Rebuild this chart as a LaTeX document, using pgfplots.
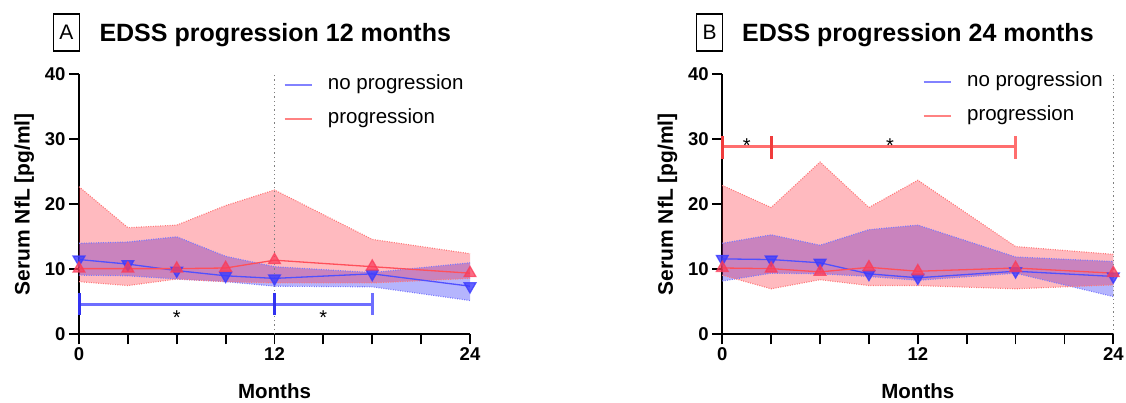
\documentclass[border=0pt]{standalone}
\usepackage{fontspec}
\setmainfont{Liberation Sans}
\usepackage{pgfplots}
\usepackage{pgfplotstable}
\pgfplotsset{compat=1.18}
\usepgfplotslibrary{fillbetween}

\definecolor{bandR}{RGB}{255,0,20}
\definecolor{bandB}{RGB}{60,60,250}
\definecolor{edgeR}{RGB}{255,120,120}
\definecolor{edgeB}{RGB}{120,120,255}
\definecolor{lineB}{RGB}{80,80,255}
\definecolor{lineR}{RGB}{255,80,90}
\definecolor{markB}{RGB}{60,60,255}
\definecolor{markR}{RGB}{250,60,90}
\definecolor{legB}{RGB}{130,130,255}
\definecolor{legR}{RGB}{255,130,130}
\definecolor{sigB}{RGB}{110,110,255}
\definecolor{sigBd}{RGB}{50,50,240}
\definecolor{sigR}{RGB}{255,110,110}
\definecolor{sigRd}{RGB}{240,60,60}

% x: month; nm/nl/nu: no progression median/lower/upper; pm/pl/pu: progression
\pgfplotstableread{
x  nm   nl   nu   pm   pl   pu
0  11.5 9.1  14.0 10.1 8.1  22.7
3  10.8 9.0  14.2 10.1 7.5  16.4
6  9.8  8.5  15.0 10.1 8.5  16.8
9  9.0  8.1  12.0 10.2 8.1  19.8
12 8.6  7.4  10.4 11.4 7.9  22.2
18 9.3  7.3  9.5  10.4 7.9  14.6
24 7.4  5.2  11.0 9.4  8.6  12.4
}\dataA

\pgfplotstableread{
x  nm   nl   nu   pm   pl   pu
0  11.6 8.2  14.0 10.2 9.1  22.9
3  11.5 9.4  15.3 10.1 7.0  19.5
6  11.0 9.3  13.7 9.6  8.4  26.5
9  9.3  8.9  16.1 10.3 7.5  19.5
12 8.7  8.3  16.8 9.7  7.5  23.7
18 9.7  9.4  11.9 10.2 7.0  13.5
24 8.9  5.8  11.2 9.4  7.6  12.3
}\dataB

\pgfplotsset{
 panel/.style={
  scale only axis, width=391pt, height=260pt, anchor=south west,
  xmin=0, xmax=24, ymin=0, ymax=40,
  axis lines*=left,
  axis line style={line width=1.8pt, black},
  every tick/.style={line width=1.8pt, black},
  tick align=outside,
  major tick length=10pt,
  xtick={0,3,...,24},
  xticklabels={0,,,,12,,,,24},
  ytick={0,10,20,30,40},
  tick label style={font=\fontsize{18.5}{18.5}\selectfont\bfseries},
  /pgf/number format/assume math mode=true,
  ylabel={Serum NfL [pg/ml]},
  xlabel={Months},
  every axis y label/.style={at={(axis description cs:-0.14,0.5)}, rotate=90, anchor=center, font=\fontsize{21}{21}\selectfont\bfseries},
  every axis x label/.style={at={(axis description cs:0.5,0)}, yshift=-64pt, anchor=base, font=\fontsize{20.5}{20.5}\selectfont\bfseries},
  clip=false,
  legend style={draw=none, fill=none, font=\fontsize{20.5}{20.5}\selectfont, anchor=west, cells={anchor=west}, inner sep=0pt, row sep=14pt, nodes={inner sep=0pt, text height=15pt, text depth=5pt}, /tikz/every odd column/.append style={column sep=15pt}},
  legend image code/.code={\draw[#1, opacity=1, line width=2pt] (0pt,0pt) -- (27.4pt,0pt);},
  bandedge/.style={line width=1.1pt, dash pattern=on 1pt off 1.4pt, forget plot},
 }
}

\begin{document}
\begin{tikzpicture}

% ---------- Panel A ----------
\begin{axis}[panel, at={(79pt,68.7pt)}, legend style={at={(0.5225,0.975)}, yshift=-21pt}]
\addplot[name path=nuA, edgeB, bandedge] table[x=x,y=nu]{\dataA};
\addplot[name path=nlA, edgeB, bandedge] table[x=x,y=nl]{\dataA};
\addplot[bandB, fill opacity=0.38, draw=none, forget plot] fill between[of=nuA and nlA];
\addplot[name path=puA, edgeR, bandedge] table[x=x,y=pu]{\dataA};
\addplot[name path=plA, edgeR, bandedge] table[x=x,y=pl]{\dataA};
\addplot[bandR, fill opacity=0.27, draw=none, forget plot] fill between[of=puA and plA];
\addplot[gray, line width=1.3pt, dash pattern=on 1.3pt off 3pt, forget plot] coordinates {(12,0) (12,40)};
\addplot[lineB, line width=1.3pt, mark=triangle*, mark size=6.8pt, mark options={rotate=180, fill=markB, draw=markB, opacity=0.8}, forget plot] table[x=x,y=nm]{\dataA};
\addplot[lineR, line width=1.3pt, mark=triangle*, mark size=6.8pt, mark options={fill=markR, draw=markR, opacity=0.75}, forget plot] table[x=x,y=pm]{\dataA};
% significance bars
\addplot[sigB, line width=3.5pt, forget plot] coordinates {(0,4.6) (18,4.6)};
\addplot[sigBd, line width=3pt, forget plot] coordinates {(0,3.0) (0,6.3)};
\addplot[sigBd, line width=3pt, forget plot] coordinates {(12,3.0) (12,6.3)};
\addplot[sigB, line width=3pt, forget plot] coordinates {(18,3.0) (18,6.3)};
\node at (axis cs:6,2.6) {\fontsize{20}{20}\selectfont *};
\node at (axis cs:15,2.6) {\fontsize{20}{20}\selectfont *};
\addlegendimage{legB}
\addlegendentry{no progression}
\addlegendimage{legR}
\addlegendentry{progression}
\end{axis}

% ---------- Panel B ----------
\begin{axis}[panel, at={(722.3pt,68.7pt)}, legend style={at={(0.512,0.983)}, yshift=-20pt}]
\addplot[name path=nuB, edgeB, bandedge] table[x=x,y=nu]{\dataB};
\addplot[name path=nlB, edgeB, bandedge] table[x=x,y=nl]{\dataB};
\addplot[bandB, fill opacity=0.38, draw=none, forget plot] fill between[of=nuB and nlB];
\addplot[name path=puB, edgeR, bandedge] table[x=x,y=pu]{\dataB};
\addplot[name path=plB, edgeR, bandedge] table[x=x,y=pl]{\dataB};
\addplot[bandR, fill opacity=0.27, draw=none, forget plot] fill between[of=puB and plB];
\addplot[gray, line width=1.3pt, dash pattern=on 1.3pt off 3pt, forget plot] coordinates {(24,0) (24,40)};
\addplot[lineB, line width=1.3pt, mark=triangle*, mark size=6.8pt, mark options={rotate=180, fill=markB, draw=markB, opacity=0.8}, forget plot] table[x=x,y=nm]{\dataB};
\addplot[lineR, line width=1.3pt, mark=triangle*, mark size=6.8pt, mark options={fill=markR, draw=markR, opacity=0.75}, forget plot] table[x=x,y=pm]{\dataB};
% significance bars
\addplot[sigR, line width=3.5pt, forget plot] coordinates {(0,28.9) (18,28.9)};
\addplot[sigRd, line width=3pt, forget plot] coordinates {(0,27.0) (0,30.5)};
\addplot[sigRd, line width=3pt, forget plot] coordinates {(3,27.0) (3,30.5)};
\addplot[sigR, line width=3pt, forget plot] coordinates {(18,27.0) (18,30.5)};
\node at (axis cs:1.5,29.1) {\fontsize{20}{20}\selectfont *};
\node at (axis cs:10.3,29.1) {\fontsize{20}{20}\selectfont *};
\addlegendimage{legB}
\addlegendentry{no progression}
\addlegendimage{legR}
\addlegendentry{progression}
\end{axis}

% ---------- Titles ----------
\node[draw, line width=1.4pt, minimum width=26pt, minimum height=37pt, inner sep=0pt] at (66.3pt,370.3pt) {\fontsize{21}{21}\selectfont A};
\node[anchor=base west, inner sep=0pt] at (99.3pt,361.3pt) {\fontsize{25}{25}\selectfont\bfseries EDSS progression 12 months};
\node[draw, line width=1.4pt, minimum width=26pt, minimum height=37pt, inner sep=0pt] at (709.7pt,370.3pt) {\fontsize{21}{21}\selectfont B};
\node[anchor=base west, inner sep=0pt] at (742pt,361.3pt) {\fontsize{25}{25}\selectfont\bfseries EDSS progression 24 months};

\pgfresetboundingbox
\path[use as bounding box] (0pt,0pt) rectangle (1126pt,403pt);
\end{tikzpicture}
\end{document}
